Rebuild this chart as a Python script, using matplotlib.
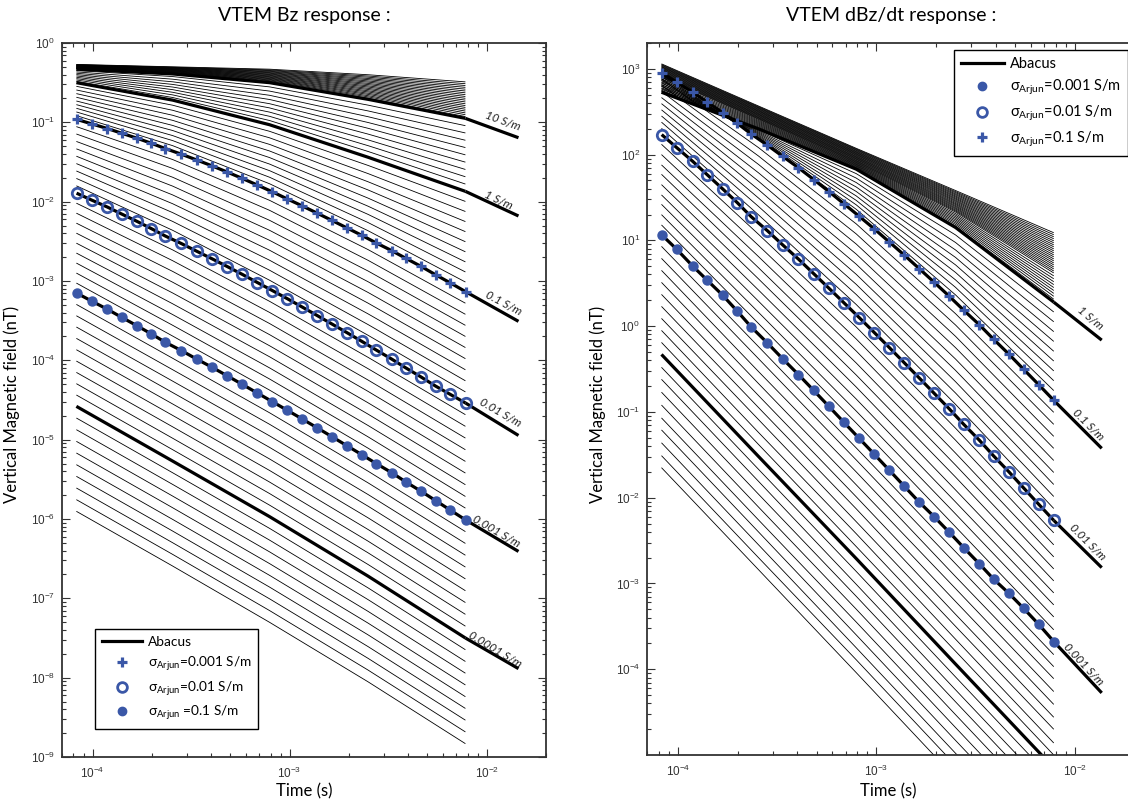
import numpy as np
import matplotlib
matplotlib.use("Agg")
import matplotlib.pyplot as plt
from matplotlib.lines import Line2D
from matplotlib.ticker import LogLocator, FixedLocator, NullFormatter

plt.rcParams['font.family'] = ['Lato', 'DejaVu Sans']
plt.rcParams['mathtext.default'] = 'regular'

BLUE = '#3a57a7'

# ---------------------------------------------------------------- data
# gate times (s)
gate_t = [8.3e-5, 9.9e-5, 1.19e-4, 1.41e-4, 1.68e-4, 1.99e-4, 2.34e-4, 2.82e-4,
          3.37e-4, 4.05e-4, 4.83e-4, 5.76e-4, 6.86e-4, 8.18e-4, 9.75e-4, 1.16e-3,
          1.38e-3, 1.64e-3, 1.95e-3, 2.32e-3, 2.75e-3, 3.29e-3, 3.89e-3, 4.64e-3,
          5.50e-3, 6.55e-3, 7.81e-3]

# Arjun results, Bz panel (nT)
bz_plus = [0.109, 0.0957, 0.0835, 0.0727, 0.0631, 0.0544, 0.0467, 0.0397, 0.0336,
           0.0282, 0.0236, 0.0196, 0.0162, 0.0133, 0.0108, 8.83e-3, 7.16e-3, 5.80e-3,
           4.68e-3, 3.77e-3, 3.02e-3, 2.42e-3, 1.93e-3, 1.53e-3, 1.20e-3, 9.44e-4, 7.35e-4]
bz_ring = [0.0128, 0.01047, 8.55e-3, 6.96e-3, 5.65e-3, 4.57e-3, 3.69e-3, 2.97e-3, 2.38e-3,
           1.90e-3, 1.52e-3, 1.21e-3, 9.57e-4, 7.57e-4, 5.97e-4, 4.69e-4, 3.67e-4, 2.87e-4,
           2.24e-4, 1.74e-4, 1.35e-4, 1.04e-4, 8.02e-5, 6.18e-5, 4.74e-5, 3.71e-5, 2.90e-5]
bz_dot = [7.05e-4, 5.58e-4, 4.40e-4, 3.47e-4, 2.73e-4, 2.15e-4, 1.69e-4, 1.33e-4, 1.04e-4,
          8.15e-5, 6.37e-5, 4.97e-5, 3.87e-5, 3.01e-5, 2.34e-5, 1.82e-5, 1.41e-5, 1.09e-5,
          8.41e-6, 6.49e-6, 5.0e-6, 3.85e-6, 2.93e-6, 2.24e-6, 1.71e-6, 1.29e-6, 9.75e-7]

# Arjun results, dBz/dt panel
dbz_plus = [898, 693, 533, 407, 309, 232, 174, 129, 95.5, 70.2, 51.2, 37.1, 26.7, 19.1,
            13.6, 9.58, 6.73, 4.69, 3.25, 2.24, 1.53, 1.04, 0.701, 0.471, 0.314, 0.208, 0.136]
dbz_ring = [171, 120, 83.3, 57.9, 39.9, 27.6, 18.9, 13.0, 8.87, 6.04, 4.09, 2.77, 1.87,
            1.26, 0.842, 0.563, 0.374, 0.249, 0.165, 0.109, 0.0715, 0.0469, 0.0306,
            0.0200, 0.0130, 8.39e-3, 5.42e-3]
dbz_dot = [11.6, 7.83, 5.00, 3.41, 2.30, 1.50, 0.979, 0.639, 0.417, 0.272, 0.178, 0.116,
           0.0755, 0.0492, 0.0321, 0.0209, 0.0136, 8.89e-3, 6.01e-3, 3.97e-3, 2.61e-3,
           1.70e-3, 1.12e-3, 7.67e-4, 5.13e-4, 3.34e-4, 2.10e-4]

# abacus curves: log10 of the value at these five times
knot_t = [8.28e-5, 2.55e-4, 7.91e-4, 2.50e-3, 7.80e-3]

bz_above_10 = [
    [-0.327, -0.386, -0.492, -0.695, -0.927], [-0.324, -0.381, -0.483, -0.679, -0.904],
    [-0.321, -0.377, -0.475, -0.664, -0.881], [-0.318, -0.372, -0.466, -0.648, -0.858],
    [-0.315, -0.368, -0.458, -0.633, -0.835], [-0.312, -0.363, -0.449, -0.617, -0.812],
    [-0.309, -0.359, -0.441, -0.602, -0.789], [-0.306, -0.354, -0.432, -0.586, -0.766],
    [-0.303, -0.350, -0.424, -0.571, -0.743], [-0.300, -0.345, -0.415, -0.555, -0.720],
    [-0.297, -0.341, -0.407, -0.540, -0.697], [-0.294, -0.336, -0.398, -0.524, -0.674],
    [-0.291, -0.332, -0.390, -0.509, -0.651], [-0.288, -0.327, -0.381, -0.493, -0.628],
    [-0.285, -0.323, -0.373, -0.478, -0.605], [-0.282, -0.318, -0.364, -0.462, -0.582],
    [-0.279, -0.314, -0.356, -0.447, -0.559], [-0.276, -0.309, -0.347, -0.431, -0.536],
    [-0.273, -0.305, -0.339, -0.416, -0.513], [-0.270, -0.300, -0.330, -0.400, -0.490]]
bz_10 = [-0.33, -0.39, -0.50, -0.71, -0.95]
bz_1_to_10 = [
    [-0.483, -0.687, -0.977, -1.367, -1.778], [-0.466, -0.654, -0.924, -1.294, -1.686],
    [-0.449, -0.621, -0.871, -1.221, -1.594], [-0.432, -0.588, -0.818, -1.148, -1.502],
    [-0.415, -0.555, -0.765, -1.075, -1.410], [-0.398, -0.522, -0.712, -1.002, -1.318],
    [-0.381, -0.489, -0.659, -0.929, -1.226], [-0.364, -0.456, -0.606, -0.856, -1.134],
    [-0.347, -0.423, -0.553, -0.783, -1.042]]
bz_1 = [-0.50, -0.72, -1.03, -1.44, -1.87]
bz_01_to_1 = [
    [-0.546, -0.784, -1.113, -1.543, -1.997], [-0.592, -0.848, -1.195, -1.646, -2.124],
    [-0.638, -0.911, -1.278, -1.749, -2.251], [-0.684, -0.975, -1.361, -1.852, -2.378],
    [-0.731, -1.039, -1.444, -1.955, -2.505], [-0.777, -1.103, -1.526, -2.057, -2.632],
    [-0.823, -1.167, -1.609, -2.160, -2.759], [-0.869, -1.230, -1.692, -2.263, -2.886],
    [-0.915, -1.294, -1.774, -2.366, -3.013]]
bz_001_to_01 = [
    [-1.054, -1.469, -1.983, -2.604, -3.280], [-1.147, -1.581, -2.109, -2.739, -3.420],
    [-1.241, -1.692, -2.235, -2.874, -3.559], [-1.334, -1.804, -2.361, -3.009, -3.699],
    [-1.427, -1.915, -2.487, -3.144, -3.839], [-1.520, -2.026, -2.612, -3.279, -3.979],
    [-1.613, -2.138, -2.738, -3.414, -4.119], [-1.707, -2.249, -2.864, -3.549, -4.258],
    [-1.800, -2.361, -2.990, -3.684, -4.398]]
bz_0001_to_001 = [
    [-2.019, -2.608, -3.256, -3.962, -4.685], [-2.145, -2.744, -3.396, -4.105, -4.832],
    [-2.271, -2.879, -3.536, -4.248, -4.980], [-2.397, -3.015, -3.676, -4.391, -5.127],
    [-2.523, -3.151, -3.816, -4.535, -5.274], [-2.648, -3.287, -3.955, -4.678, -5.421],
    [-2.774, -3.423, -4.095, -4.821, -5.568], [-2.900, -3.558, -4.235, -4.964, -5.716],
    [-3.026, -3.694, -4.375, -5.107, -5.863]]
bz_00001_to_0001 = [
    [-3.295, -3.974, -4.661, -5.397, -6.159], [-3.438, -4.118, -4.806, -5.544, -6.308],
    [-3.580, -4.262, -4.952, -5.691, -6.457], [-3.723, -4.406, -5.097, -5.838, -6.606],
    [-3.866, -4.550, -5.243, -5.985, -6.755], [-4.009, -4.694, -5.388, -6.132, -6.904],
    [-4.152, -4.838, -5.534, -6.279, -7.053], [-4.294, -4.982, -5.679, -6.426, -7.202],
    [-4.437, -5.126, -5.825, -6.573, -7.351]]
bz_00001 = [-4.58, -5.27, -5.97, -6.72, -7.50]
bz_below_00001 = [
    [-4.727, -5.417, -6.118, -6.868, -7.648], [-4.874, -5.564, -6.266, -7.016, -7.796],
    [-5.021, -5.711, -6.414, -7.164, -7.944], [-5.168, -5.858, -6.562, -7.312, -8.092],
    [-5.315, -6.005, -6.710, -7.460, -8.240], [-5.462, -6.152, -6.858, -7.608, -8.388],
    [-5.609, -6.299, -7.006, -7.756, -8.536], [-5.756, -6.446, -7.154, -7.904, -8.684],
    [-5.903, -6.593, -7.302, -8.052, -8.832]]

dbz_above_10 = [
    [2.908, 2.418, 1.918, 1.343, 0.643], [2.916, 2.426, 1.926, 1.355, 0.667],
    [2.924, 2.433, 1.934, 1.368, 0.690], [2.932, 2.441, 1.943, 1.380, 0.714],
    [2.940, 2.449, 1.951, 1.393, 0.737], [2.947, 2.457, 1.959, 1.405, 0.761],
    [2.955, 2.465, 1.967, 1.418, 0.784], [2.963, 2.472, 1.975, 1.430, 0.808],
    [2.971, 2.480, 1.983, 1.443, 0.831], [2.979, 2.488, 1.992, 1.456, 0.855],
    [2.987, 2.496, 2.000, 1.468, 0.878], [2.995, 2.504, 2.008, 1.481, 0.901],
    [3.003, 2.511, 2.016, 1.493, 0.925], [3.011, 2.519, 2.024, 1.506, 0.948],
    [3.019, 2.527, 2.032, 1.518, 0.972], [3.026, 2.535, 2.040, 1.531, 0.995],
    [3.034, 2.543, 2.049, 1.543, 1.019], [3.042, 2.550, 2.057, 1.556, 1.042],
    [3.050, 2.558, 2.065, 1.568, 1.066], [3.058, 2.566, 2.073, 1.581, 1.089]]
dbz_10 = [2.900, 2.410, 1.910, 1.330, 0.620]
dbz_1_to_10 = [
    [2.744, 2.311, 1.838, 1.168, 0.314], [2.762, 2.322, 1.846, 1.186, 0.348],
    [2.779, 2.333, 1.854, 1.204, 0.382], [2.796, 2.344, 1.862, 1.222, 0.416],
    [2.814, 2.355, 1.870, 1.240, 0.450], [2.831, 2.366, 1.878, 1.258, 0.484],
    [2.848, 2.377, 1.886, 1.276, 0.518], [2.865, 2.388, 1.894, 1.294, 0.552],
    [2.883, 2.399, 1.902, 1.312, 0.586]]
dbz_1 = [2.727, 2.300, 1.830, 1.150, 0.280]
dbz_01_to_1 = [
    [2.930, 2.191, 1.362, 0.364, -0.751], [2.908, 2.203, 1.414, 0.452, -0.636],
    [2.885, 2.215, 1.466, 0.539, -0.522], [2.863, 2.227, 1.518, 0.626, -0.407],
    [2.840, 2.240, 1.570, 0.714, -0.293], [2.817, 2.252, 1.622, 0.801, -0.178],
    [2.795, 2.264, 1.674, 0.888, -0.064], [2.772, 2.276, 1.726, 0.975, 0.051],
    [2.750, 2.288, 1.778, 1.063, 0.165]]
dbz_001_to_01 = [
    [2.306, 1.297, 0.252, -0.912, -2.126], [2.378, 1.395, 0.369, -0.780, -1.986],
    [2.450, 1.493, 0.487, -0.648, -1.846], [2.522, 1.591, 0.604, -0.516, -1.706],
    [2.594, 1.689, 0.722, -0.384, -1.566], [2.665, 1.787, 0.840, -0.251, -1.425],
    [2.737, 1.885, 0.957, -0.119, -1.285], [2.809, 1.983, 1.075, 0.013, -1.145],
    [2.881, 2.081, 1.192, 0.145, -1.005]]
dbz_0001_to_001 = [
    [2.12, 1.07, -0.01, -1.19, -2.41], [2.00, 0.94, -0.15, -1.33, -2.55],
    [1.88, 0.81, -0.29, -1.48, -2.69], [1.77, 0.68, -0.43, -1.62, -2.83],
    [1.65, 0.55, -0.57, -1.76, -2.97], [1.53, 0.42, -0.71, -1.91, -3.11],
    [1.42, 0.29, -0.85, -2.05, -3.25], [1.30, 0.16, -0.99, -2.19, -3.39],
    [1.18, 0.03, -1.13, -2.34, -3.54]]
dbz_00001_to_0001 = [
    [0.93, -0.24, -1.42, -2.63, -3.83], [0.79, -0.38, -1.56, -2.77, -3.97],
    [0.65, -0.53, -1.70, -2.92, -4.11], [0.51, -0.67, -1.85, -3.06, -4.26],
    [0.37, -0.81, -1.99, -3.21, -4.41], [0.23, -0.95, -2.13, -3.36, -4.56],
    [0.09, -1.09, -2.28, -3.50, -4.70], [-0.05, -1.24, -2.42, -3.65, -4.86],
    [-0.19, -1.38, -2.57, -3.79, -5.00]]
dbz_00001 = [-0.33, -1.52, -2.71, -3.94, -5.15]
dbz_below_00001 = [
    [-0.48, -1.67, -2.86, -4.09, -5.30], [-0.62, -1.81, -3.01, -4.24, -5.45],
    [-0.77, -1.96, -3.15, -4.38, -5.59], [-0.92, -2.11, -3.30, -4.53, -5.74],
    [-1.07, -2.26, -3.45, -4.68, -5.89], [-1.21, -2.40, -3.60, -4.83, -6.04],
    [-1.36, -2.55, -3.75, -4.98, -6.19], [-1.51, -2.70, -3.89, -5.12, -6.33],
    [-1.65, -2.84, -4.04, -5.27, -6.48]]

# short label leaders on the labelled abacus curves
bz_tail_t = 1.45e-2
bz_tail_names = ['10 S/m', '1 S/m', '0.1 S/m', '0.01 S/m', '0.001 S/m', '0.0001 S/m']
bz_tail_end = [0.064, 0.0066, 3.1e-4, 1.13e-5, 3.9e-7, 1.3e-8]
dbz_tail_t = 1.36e-2
dbz_tail_names = ['1 S/m', '0.1 S/m', '0.01 S/m', '0.001 S/m']
dbz_tail_end = [0.687, 0.0376, 1.53e-3, 5.3e-5]

# ---------------------------------------------------------------- figure
W, H = 1128, 805
fig = plt.figure(figsize=(W / 100, H / 100), dpi=100)
ax1 = fig.add_axes([62 / W, 1 - 757 / H, 484 / W, 714 / H])
ax2 = fig.add_axes([647 / W, 1 - 755 / H, 488 / W, 712 / H])


def thin(ax, rows):
    for r in rows:
        ax.plot(knot_t, 10 ** np.array(r), color='k', lw=0.6, solid_capstyle='butt')


def thick(ax, t, v, tail_t=None, tail_v=None):
    ax.plot(t, v, color='k', lw=2.3, solid_capstyle='butt')
    if tail_t is not None:
        ax.plot([t[-1], tail_t], [v[-1], tail_v], color='k', lw=2.3,
                solid_capstyle='butt', clip_on=False)


def k10(r):
    return 10 ** np.array(r)


# --- left: Bz
for fam in [bz_above_10, bz_1_to_10, bz_01_to_1, bz_001_to_01, bz_0001_to_001,
            bz_00001_to_0001, bz_below_00001]:
    thin(ax1, fam)
thick(ax1, knot_t, k10(bz_10), bz_tail_t, bz_tail_end[0])
thick(ax1, knot_t, k10(bz_1), bz_tail_t, bz_tail_end[1])
thick(ax1, gate_t, bz_plus, bz_tail_t, bz_tail_end[2])
thick(ax1, gate_t, bz_ring, bz_tail_t, bz_tail_end[3])
thick(ax1, gate_t, bz_dot, bz_tail_t, bz_tail_end[4])
thick(ax1, knot_t, k10(bz_00001), bz_tail_t, bz_tail_end[5])
ax1.plot(gate_t, bz_plus, ls='none', marker='+', ms=7.5, mew=2.3, color=BLUE)
ax1.plot(gate_t, bz_ring, ls='none', marker='o', ms=7.5, mew=2.0, mfc='none', mec=BLUE)
ax1.plot(gate_t, bz_dot, ls='none', marker='o', ms=6.5, color=BLUE, mec=BLUE)

# --- right: dBz/dt
for fam in [dbz_above_10, dbz_1_to_10, dbz_01_to_1, dbz_001_to_01, dbz_0001_to_001,
            dbz_00001_to_0001, dbz_below_00001]:
    thin(ax2, fam)
thin(ax2, [dbz_10])
thick(ax2, knot_t, k10(dbz_1), dbz_tail_t, dbz_tail_end[0])
thick(ax2, gate_t, dbz_plus, dbz_tail_t, dbz_tail_end[1])
thick(ax2, gate_t, dbz_ring, dbz_tail_t, dbz_tail_end[2])
thick(ax2, gate_t, dbz_dot, dbz_tail_t, dbz_tail_end[3])
thick(ax2, knot_t, k10(dbz_00001))
ax2.plot(gate_t, dbz_plus, ls='none', marker='+', ms=7.5, mew=2.3, color=BLUE)
ax2.plot(gate_t, dbz_ring, ls='none', marker='o', ms=7.5, mew=2.0, mfc='none', mec=BLUE)
ax2.plot(gate_t, dbz_dot, ls='none', marker='o', ms=6.5, color=BLUE, mec=BLUE)

# curve labels
bz_lab_xy = [(0.01205, 0.104), (0.01148, 0.01054), (0.01218, 5.31e-4),
             (0.01177, 2.19e-5), (0.01122, 6.94e-7), (0.01109, 2.26e-8)]
bz_lab_rot = [-20, -25, -28, -30, -30, -31]
for (x, y), name, rot in zip(bz_lab_xy, bz_tail_names, bz_lab_rot):
    ax1.text(x, y, name, fontsize=8.5, style='italic', rotation=rot,
             rotation_mode='anchor', ha='center', va='center', color='#222222',
             clip_on=False)
dbz_lab_xy = [(0.01186, 1.25), (0.01159, 0.0714), (0.01159, 3.01e-3), (0.01094, 1.14e-4)]
dbz_lab_rot = [-40, -45, -45, -47]
for (x, y), name, rot in zip(dbz_lab_xy, dbz_tail_names, dbz_lab_rot):
    ax2.text(x, y, name, fontsize=8.5, style='italic', rotation=rot,
             rotation_mode='anchor', ha='center', va='center', color='#222222',
             clip_on=False)

# axes styling
ax1.set_xlim(7e-5, 2e-2)
ax1.set_ylim(1e-9, 1)
ax2.set_xlim(7e-5, 2e-2)
ax2.set_ylim(1e-5, 2e3)
x_major = [1e-4, 1e-3, 1e-2]
y1_major = [1e-9, 1e-8, 1e-7, 1e-6, 1e-5, 1e-4, 1e-3, 1e-2, 1e-1, 1]
y2_major = [1e-4, 1e-3, 1e-2, 1e-1, 1, 10, 100, 1000]
for ax, ym in ((ax1, y1_major), (ax2, y2_major)):
    ax.set_xscale('log')
    ax.set_yscale('log')
    ax.xaxis.set_major_locator(FixedLocator(x_major))
    ax.yaxis.set_major_locator(FixedLocator(ym))
    for axis in (ax.xaxis, ax.yaxis):
        axis.set_minor_locator(LogLocator(base=10, subs=np.arange(2, 10), numticks=60))
        axis.set_minor_formatter(NullFormatter())
    ax.tick_params(which='both', direction='in', top=True, right=True, width=0.8,
                   color='#333333')
    ax.tick_params(which='major', length=6, labelsize=8.5,
                   labelfontfamily='Liberation Sans', labelcolor='#333333')
    ax.tick_params(which='minor', length=3)
    ax.tick_params(axis='y', pad=5)
    ax.tick_params(axis='x', pad=6)
    for sp in ax.spines.values():
        sp.set_linewidth(1.3)
        sp.set_color('#333333')
# the right edge of the second panel runs off the picture
ax2.tick_params(which='both', right=False)


# legends
def mk_handles(order):
    h = {'line': Line2D([], [], color='k', lw=2.3),
         'plus': Line2D([], [], ls='none', marker='+', ms=7, mew=2.3, color=BLUE),
         'ring': Line2D([], [], ls='none', marker='o', ms=7, mew=2.0, mfc='none', mec=BLUE),
         'dot': Line2D([], [], ls='none', marker='o', ms=6, color=BLUE)}
    return [h[o] for o in order]


leg_kw = dict(frameon=True, fancybox=False, framealpha=1, edgecolor='k',
              borderpad=0.5, labelspacing=0.45, handlelength=2.9, handletextpad=0.45,
              borderaxespad=0)
lg1 = ax1.legend(mk_handles(['line', 'plus', 'ring', 'dot']),
                 ['Abacus', 'σ$_{Arjun}$=0.001 S/m', 'σ$_{Arjun}$=0.01 S/m',
                  'σ$_{Arjun}$ =0.1 S/m'],
                 loc='lower left', bbox_to_anchor=(0.069, 0.039), fontsize=9.8, **leg_kw)
lg1.get_frame().set_linewidth(1.0)
lg2 = ax2.legend(mk_handles(['line', 'dot', 'ring', 'plus']),
                 ['Abacus', 'σ$_{Arjun}$=0.001 S/m', 'σ$_{Arjun}$=0.01 S/m',
                  'σ$_{Arjun}$=0.1 S/m'],
                 loc='upper left', bbox_to_anchor=(0.629, 0.99), fontsize=10.5, **leg_kw)
lg2.get_frame().set_linewidth(1.0)

# titles and axis labels
fig.text(304 / W, 1 - 16 / H, 'VTEM Bz response :', ha='center', va='center', fontsize=14)
fig.text(891 / W, 1 - 16 / H, 'VTEM dBz/dt response :', ha='center', va='center', fontsize=14)
fig.text(304 / W, 1 - 791 / H, 'Time (s)', ha='center', va='center', fontsize=12)
fig.text(888 / W, 1 - 791 / H, 'Time (s)', ha='center', va='center', fontsize=12)
fig.text(12 / W, 1 - 404 / H, 'Vertical Magnetic field (nT)', rotation=90,
         ha='center', va='center', fontsize=12)
fig.text(598 / W, 1 - 404 / H, 'Vertical Magnetic field (nT)', rotation=90,
         ha='center', va='center', fontsize=12)

fig.savefig('out.png', dpi=100)
